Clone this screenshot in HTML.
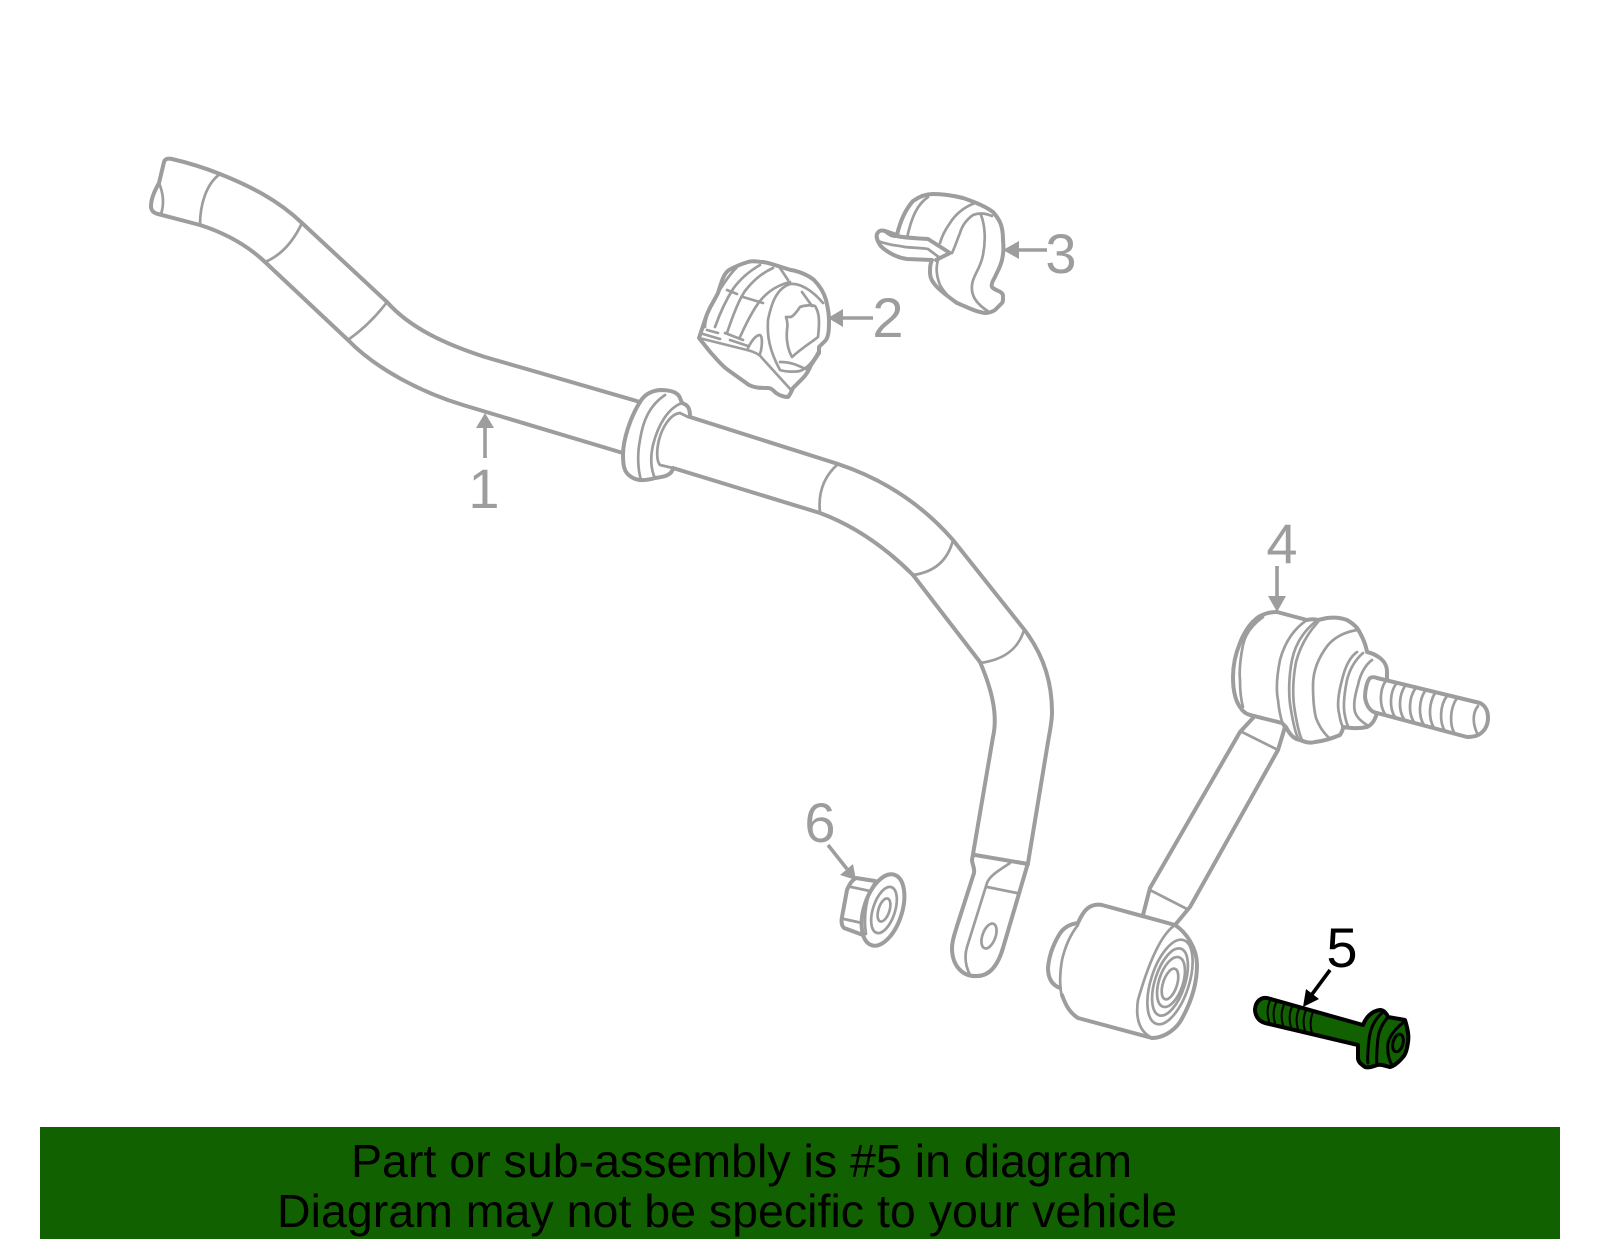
<!DOCTYPE html>
<html><head><meta charset="utf-8">
<style>
html,body{margin:0;padding:0;background:#fff}
svg{display:block}
text{font-family:"Liberation Sans",sans-serif}
.o{fill:none;stroke:#9d9d9d;stroke-width:4;stroke-linejoin:round;stroke-linecap:round}
.i{fill:none;stroke:#9d9d9d;stroke-width:2.7;stroke-linejoin:round;stroke-linecap:round}
.l{fill:#9d9d9d;font-size:56px}
.b{fill:none;stroke:#000;stroke-width:4;stroke-linejoin:round;stroke-linecap:round}
.t{fill:none;stroke:#000;stroke-width:2;stroke-linecap:round}
</style></head><body>
<svg width="1600" height="1249" viewBox="0 0 1600 1249" xmlns="http://www.w3.org/2000/svg">
<rect width="1600" height="1249" fill="#fff"/>

<!-- Part 1: bar -->
<g>
<path class="o" d="M640 402L530 370L485 357C445 344 410 328 387 302L302 223C278 200 250 186 220 174C205 168 185 162 172 159C167 158 165 159 164 162L159 183C155 190 151 198 151 206C151 211 154 213 158 214L200 225C225 233 247 245 265 262L348 340C375 368 420 392 463 405L623 453"/>
<path class="i" d="M159 183C164 195 164 205 161 214"/>
<path class="i" d="M220 174C206 184 200 205 200 225"/>
<path class="i" d="M302 223C294 240 282 255 265 262"/>
<path class="i" d="M387 302C375 318 362 330 348 340"/>
<path class="o" d="M690 417L838 464C880 478 920 502 953 540L1023 628C1042 652 1052 680 1052 712C1052 722 1050 730 1048 742L1028 863L1003 948C998 965 990 976 977 976C962 977 952 965 952 948C952 940 955 933 957 926L974 873C975 868 972 864 972 860L993 737C998 715 992 690 980 662L913 575C885 547 855 526 820 513L673 468"/>
<path class="i" d="M838 464C822 478 818 495 820 513"/>
<path class="i" d="M953 540C948 560 935 572 913 575"/>
<path class="i" d="M1024 630C1018 650 1003 660 980 663"/>
<path class="o" d="M975 855L1028 864"/>
<path class="i" d="M1010 863C1000 870 990 875 987 883L967 947C964 957 966 967 970 975"/>
<path class="i" d="M987 887L1017 893"/>
<ellipse class="i" cx="989" cy="936" rx="6.5" ry="13" transform="rotate(20 989 936)"/>
<!-- collar -->
<path class="o" d="M640 402C644 395 650 391 660 390C670 390 678 392 680 398L682 403C688 405 690 408 690 417"/>
<path class="o" d="M640 402C630 418 623 440 623 455C623 465 624 472 630 476C636 481 645 481 655 478C662 477 672 476 673 468"/>
<path class="i" d="M665 395C650 405 643 420 640 440C637 455 638 470 641 480"/>
<path class="i" d="M682 403C668 408 658 425 653 445C650 458 651 470 655 478"/>
<path class="i" d="M688 417L680 413C670 414 662 428 659 440C656 452 657 462 660 465L673 468"/>
</g>
<path d="M485 458V428" stroke="#9d9d9d" stroke-width="3.6" fill="none"/>
<path d="M485 413L476 428H494Z" fill="#9d9d9d"/>
<text class="l" x="484" y="508" text-anchor="middle">1</text>

<!-- Part 2 -->
<g>
<path class="o" d="M699 338L706 317C709 308 713 303 718 293C721 284 723 274 729 270C736 266 741 264 748 262C753 260 758 262 763 262C771 263 783 268 791 270C798 271 808 275 814 280C821 287 824 293 826 300C828 308 829 314 829 320C829 328 829 335 826 340L819 347V353L811 365C809 370 806 375 803 378L793 388C791 392 790 395 788 397C784 397 779 395 776 393C773 390 771 388 768 388C761 388 755 388 749 385L728 370C721 365 716 358 711 353Z"/>
<path class="i" d="M699 338L747 350C755 352 760 355 762 358L792 391"/>
<path class="i" d="M737 267C728 276 718 292 710 307C707 315 705 321 705 327"/>
<path class="i" d="M760 265C748 272 740 279 733 289C726 300 720 313 715 327"/>
<path class="i" d="M773 268C760 274 752 282 745 291C738 301 732 318 727 333"/>
<path class="i" d="M790 282C778 285 768 291 760 301C752 311 745 326 740 337"/>
<path class="i" d="M780 268L788 280"/>
<path class="i" d="M727 290L737 294M743 297L763 303"/>
<path class="i" d="M707 330L718 333M725 333L743 340M703 334L720 339M730 340L748 346"/>
<path class="i" d="M748 348C752 340 756 335 760 335C763 337 762 348 760 354"/>
<path class="i" d="M823 303C812 290 800 283 790 284C778 288 772 300 768 320C767 335 769 350 780 370C786 372 795 372 800 371C808 368 814 360 818 352"/>
<path class="i" d="M786 317H791C795 315 798 310 800 307C805 305 812 305 815 306C819 312 820 320 818 337C812 342 803 347 792 357C788 350 786 340 787 330C788 325 787 320 786 317Z"/>
<path class="i" d="M780 362C790 362 795 364 808 370M802 292L812 306"/>
</g>
<path d="M873 318H842" stroke="#9d9d9d" stroke-width="3.6" fill="none"/>
<path d="M828 318L843 309V327Z" fill="#9d9d9d"/>
<text class="l" x="888" y="337" text-anchor="middle">2</text>

<!-- Part 3 -->
<g>
<path class="o" d="M897 235C900 222 905 210 913 201C920 196 926 194 933 194C945 194 955 196 963 198C975 202 985 206 993 212C1000 220 1003 226 1003 240C1004 250 1003 255 1002 260C1000 268 997 272 995 277C992 282 991 285 992 287C995 291 1003 291 1003 296C1003 300 1003 302 1002 303L995 310C992 312 988 313 985 313C975 312 965 306 957 303C950 298 943 293 937 287C932 282 930 278 930 273C930 268 930 264 932 260L907 259C900 258 895 256 890 253C885 250 882 248 880 245C877 240 876 237 877 234C879 230 882 230 885 231Z"/>
<path class="o" d="M885 231C890 235 892 236 897 236C905 238 915 238 928 239L950 253L936 260"/>
<path class="i" d="M878 241C888 245 895 245 905 247C915 248 922 248 928 249L940 258"/>
<path class="i" d="M928 197C918 204 912 215 907 238"/>
<path class="i" d="M975 203C962 208 955 215 950 223C945 230 942 236 940 243"/>
<path class="i" d="M992 216C985 213 978 213 973 215C966 220 962 226 960 233C957 240 955 247 952 253"/>
<path class="i" d="M981 215C985 225 986 240 983 255C980 270 973 275 972 285C971 295 975 303 989 312"/>
<path class="i" d="M938 260C935 270 938 280 940 285C944 292 948 296 951 299"/>
</g>
<path d="M1047 250H1018" stroke="#9d9d9d" stroke-width="3.6" fill="none"/>
<path d="M1003 250L1019 241V259Z" fill="#9d9d9d"/>
<text class="l" x="1061" y="273" text-anchor="middle">3</text>

<!-- Part 4 -->
<g>
<path class="o" d="M1277 612C1270 612 1262 614 1257 618C1248 625 1243 635 1240 643C1235 655 1233 665 1233 677C1233 690 1235 700 1240 707C1243 712 1246 714 1250 715L1282 723L1286 727C1290 735 1294 739 1300 740C1307 743 1312 743 1315 742C1325 741 1333 738 1340 735C1342 732 1343 730 1343 727C1350 728 1358 729 1367 727C1372 725 1375 720 1377 713"/>
<path class="o" d="M1277 612L1307 620C1311 619 1315 619 1318 620L1327 618C1335 617 1342 618 1347 620C1354 624 1358 628 1360 633C1364 640 1366 646 1367 652C1372 653 1376 655 1380 658C1385 662 1387 666 1387 672V680"/>
<path class="o" d="M1377 678L1480 703C1486 706 1488 712 1488 718C1488 726 1484 732 1478 735C1474 737 1470 737 1467 737L1377 713C1370 712 1366 705 1365 697C1365 690 1367 681 1370 678C1372 677 1375 677 1377 678Z"/>
<path class="i" d="M1263 617C1252 625 1245 635 1243 645C1240 660 1239 670 1240 680C1240 690 1241 700 1243 707"/>
<path class="i" d="M1307 620C1292 630 1284 645 1280 660C1277 675 1276 690 1278 700C1279 710 1281 720 1284 727"/>
<path class="i" d="M1315 622C1303 632 1295 645 1292 660C1289 675 1288 695 1291 710C1293 722 1295 732 1298 738"/>
<path class="i" d="M1318 622C1307 634 1300 647 1296 662C1293 678 1292 695 1295 712C1297 724 1299 734 1302 740"/>
<path class="i" d="M1357 630C1345 632 1335 637 1328 645C1318 658 1313 672 1313 685C1313 700 1314 710 1316 718C1320 728 1324 733 1329 738"/>
<path class="i" d="M1357 652C1350 657 1345 667 1342 680C1338 695 1337 705 1339 713C1340 719 1341 724 1343 727"/>
<path class="i" d="M1363 653C1355 660 1350 668 1347 680C1344 695 1343 708 1345 716C1346 721 1347 725 1349 728"/>
<path class="i" d="M1372 660C1365 665 1360 675 1358 685C1355 695 1353 705 1355 712C1357 718 1362 722 1367 725"/>
<path class="i" d="M1385 682C1380 690 1379 705 1385 714"/>
<path class="i" d="M1396 684C1390 692 1389 708 1395 717"/>
<path class="i" d="M1405 686C1399 695 1398 710 1404 719"/>
<path class="i" d="M1415 689C1409 698 1408 713 1414 722"/>
<path class="i" d="M1425 691C1419 700 1418 716 1424 725"/>
<path class="i" d="M1435 693C1429 703 1428 718 1434 728"/>
<path class="i" d="M1447 696C1440 705 1439 722 1445 731"/>
<path class="i" d="M1457 698C1450 708 1449 725 1455 734"/>
<path class="i" d="M1478 706C1473 712 1472 722 1477 733"/>
<!-- arm -->
<path class="o" d="M1253 718L1240 732L1150 888L1143 915"/>
<path class="o" d="M1285 727L1278 750L1190 907L1175 925"/>
<path class="i" d="M1242 732L1278 750"/>
<path class="i" d="M1150 890L1187 909"/>
<!-- bushing -->
<path class="o" d="M1175 925L1102 905C1097 904 1092 905 1088 908C1084 911 1081 916 1078 923C1070 924 1063 928 1059 935C1053 945 1049 955 1048 968C1048 978 1052 985 1060 988"/>
<path class="o" d="M1062 995C1066 1006 1070 1013 1078 1018L1152 1038"/>
<path class="i" d="M1078 925C1070 935 1065 947 1062 960C1060 972 1059 985 1062 997"/>
<path class="o" d="M1175 925C1186 932 1197 948 1197 965C1197 985 1190 1005 1180 1022C1173 1032 1162 1038 1152 1038"/>
<path class="i" d="M1175 925C1160 935 1148 965 1138 1000C1135 1020 1140 1032 1152 1038"/>
<ellipse class="i" cx="1170" cy="982" rx="19" ry="44" transform="rotate(18 1170 982)"/>
<ellipse class="i" cx="1170" cy="982" rx="15" ry="35" transform="rotate(18 1170 982)"/>
<ellipse class="i" cx="1171" cy="982" rx="12" ry="26" transform="rotate(18 1171 982)"/>
<ellipse class="i" cx="1170" cy="984" rx="7" ry="16" transform="rotate(18 1170 984)"/>
</g>
<path d="M1277 566V597" stroke="#9d9d9d" stroke-width="3.6" fill="none"/>
<path d="M1277 612L1268 596H1286Z" fill="#9d9d9d"/>
<text class="l" x="1282" y="563" text-anchor="middle">4</text>

<!-- Part 6 -->
<g>
<path class="o" d="M875 881L856 878C852 880 849 885 847 890L842 917C841 922 842 926 844 928L863 935"/>
<ellipse class="o" cx="883" cy="910" rx="19" ry="37" transform="rotate(18 883 910)"/>
<ellipse class="i" cx="884" cy="910" rx="11" ry="24" transform="rotate(18 884 910)"/>
<ellipse class="i" cx="884" cy="910" rx="5.5" ry="12" transform="rotate(18 884 910)"/>
<path class="i" d="M851 887L870 891M844 919L862 923M874 884C867 895 863 915 866 934"/>
</g>
<path d="M828 845L847 869" stroke="#9d9d9d" stroke-width="3.6" fill="none"/>
<path d="M856 880L840 875L853 864Z" fill="#9d9d9d"/>
<text class="l" x="820" y="842" text-anchor="middle">6</text>

<!-- Part 5 bolt -->
<g>
<path d="M1267 998L1363 1025C1366 1017 1372 1011 1380 1010C1384 1010 1387 1014 1388 1017L1405 1020C1408 1030 1409 1036 1408 1042C1407 1050 1405 1055 1403 1057C1398 1063 1394 1066 1390 1067C1385 1066 1381 1064 1377 1065C1372 1067 1368 1068 1365 1067C1361 1064 1358 1062 1358 1058V1045L1265 1023C1258 1021 1255 1015 1255 1009C1256 1001 1261 997 1267 998Z" fill="#116100" stroke="#000" stroke-width="4" stroke-linejoin="round"/>
<path class="t" d="M1270 1001C1267 1007 1267 1014 1269 1021M1276 1003C1273 1009 1273 1017 1275 1023M1284 1005C1281 1011 1281 1019 1283 1025M1292 1007C1289 1013 1289 1021 1291 1027M1299 1009C1296 1015 1296 1023 1298 1029M1306 1010C1303 1017 1303 1025 1305 1031M1313 1012C1310 1019 1310 1027 1312 1033"/>
<path class="b" style="stroke-width:3" d="M1382 1013C1374 1020 1370 1030 1369 1040C1368 1050 1367 1057 1368 1063"/>
<path class="b" style="stroke-width:3" d="M1388 1017C1382 1024 1379 1030 1378 1038C1377 1048 1376 1057 1377 1065"/>
<path class="b" style="stroke-width:3" d="M1404 1022C1396 1028 1390 1035 1388 1043C1387 1052 1389 1060 1392 1065"/>
<ellipse cx="1398" cy="1043" rx="5" ry="9" fill="none" stroke="#000" stroke-width="3" transform="rotate(15 1398 1043)"/>
</g>
<path d="M1330 970L1310 997" stroke="#000" stroke-width="3.6" fill="none"/>
<path d="M1303 1007L1306 989L1319 999Z" fill="#000"/>
<text x="1342" y="967" text-anchor="middle" font-size="56" fill="#000">5</text>

<!-- Banner -->
<rect x="40" y="1127" width="1520" height="112" fill="#116100"/>
<text x="351" y="1177" font-size="46" fill="#000" textLength="781" lengthAdjust="spacingAndGlyphs">Part or sub-assembly is #5 in diagram</text>
<text x="277" y="1227" font-size="46" fill="#000" textLength="900" lengthAdjust="spacingAndGlyphs">Diagram may not be specific to your vehicle</text>
</svg>
</body></html>
